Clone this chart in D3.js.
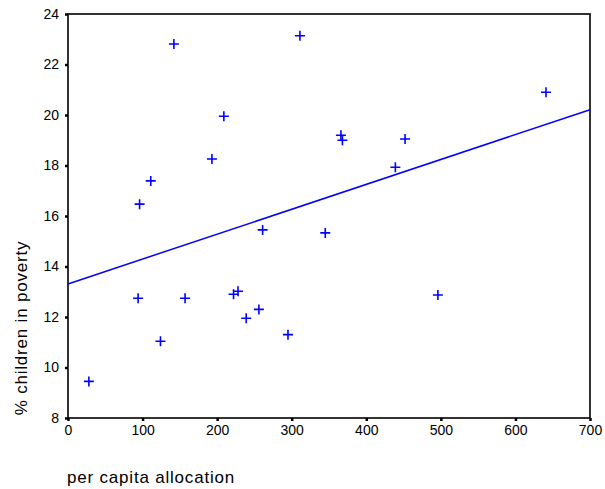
<!DOCTYPE html>
<html lang="en">
<head>
<meta charset="utf-8">
<title>poverty vs allocation</title>
<style>
  body { margin: 0; background: #fff; }
  text { font-family: "Liberation Sans", Arial, sans-serif; fill: #000; }
</style>
</head>
<body>
<svg></svg>
<script src="https://d3js.org/d3.v7.min.js"></script>
<script>
// data
var allocation = [28, 94, 96, 111, 142, 124, 157, 193, 209, 311, 366, 368, 452, 439, 641, 261, 345, 222, 228, 256, 239, 295, 496];
var poverty    = [9.45, 12.74, 16.47, 17.39, 22.81, 11.04, 12.74, 18.26, 19.95, 23.14, 19.2, 19.0, 19.05, 17.93, 20.9, 15.45, 15.33, 12.9, 13.02, 12.3, 11.95, 11.3, 12.87];
var fitX = [0, 700];
var fitY = [13.31, 20.21];
var xTicks = [0, 100, 200, 300, 400, 500, 600, 700];
var yTicks = [8, 10, 12, 14, 16, 18, 20, 22, 24];

var width = 605, height = 489;
var margin = {left: 68, top: 14, right: 15, bottom: 71};

var svg = d3.select('svg').attr('width', width).attr('height', height);

var x = d3.scaleLinear().domain([0, 700]).range([margin.left, width - margin.right]);
var y = d3.scaleLinear().domain([8, 24]).range([height - margin.bottom, margin.top]);

// frame
svg.append('rect')
  .attr('x', x(0)).attr('y', y(24))
  .attr('width', x(700) - x(0)).attr('height', y(8) - y(24))
  .attr('fill', 'none').attr('stroke', '#000').attr('stroke-width', 1.6);

// axes (short dotted ticks like the original)
var xAxis = svg.append('g')
  .attr('transform', 'translate(0,' + y(8) + ')')
  .call(d3.axisBottom(x).tickValues(xTicks).tickSize(3).tickPadding(4));
var yAxis = svg.append('g')
  .attr('transform', 'translate(' + x(0) + ',0)')
  .call(d3.axisLeft(y).tickValues(yTicks).tickSize(3).tickPadding(6));

[xAxis, yAxis].forEach(function(g) {
  g.select('.domain').remove();
  g.selectAll('line').attr('stroke', '#000').attr('stroke-width', 2.5);
  g.selectAll('text').style('font-size', '14px').attr('fill', '#000');
});

// regression line
var line = d3.line().x(function(d) { return x(d[0]); }).y(function(d) { return y(d[1]); });
svg.append('path')
  .datum(d3.zip(fitX, fitY))
  .attr('d', line)
  .attr('fill', 'none').attr('stroke', '#0000ff').attr('stroke-width', 1.5);

// points as plus signs
svg.append('g').selectAll('path')
  .data(d3.zip(allocation, poverty))
  .enter().append('path')
  .attr('transform', function(d) { return 'translate(' + x(d[0]) + ',' + y(d[1]) + ')'; })
  .attr('d', 'M-5,0H5M0,-5V5')
  .attr('stroke', '#0000ff').attr('stroke-width', 1.6).attr('fill', 'none');

// axis titles
svg.append('text')
  .attr('transform', 'translate(27,' + 328 + ') rotate(-90)')
  .attr('text-anchor', 'middle')
  .style('font-size', '17px')
  .style('letter-spacing', '0.8px')
  .text('% children in poverty');

svg.append('text')
  .attr('x', 67).attr('y', 483)
  .style('font-size', '17px')
  .style('letter-spacing', '0.8px')
  .text('per capita allocation');
</script>
</body>
</html>
